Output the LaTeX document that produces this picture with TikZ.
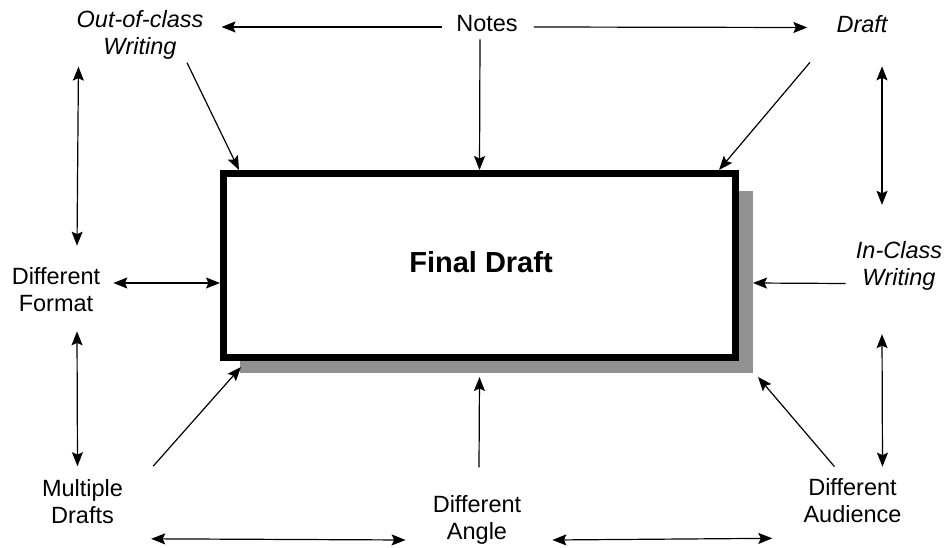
\documentclass[tikz,border=0pt]{standalone}
\usepackage{fontspec}
\setmainfont{Liberation Sans}
\usetikzlibrary{arrows.meta}
\definecolor{shadowgray}{RGB}{145,145,145}
\begin{document}
\begin{tikzpicture}[x=1pt,y=-1pt,
  lbl/.style={inner sep=0pt, align=center, font=\fontsize{23.5}{27}\selectfont},
  ilbl/.style={inner sep=0pt, align=center, font=\fontsize{23.5}{27}\selectfont\itshape},
  tip/.tip={Stealth[length=14pt,width=11pt,inset=2.5pt]},
  arr/.style={line width=1.2pt, -tip},
  dbl/.style={line width=1.2pt, tip-tip}]

% canvas
\fill[white] (0,0) rectangle (945,548);
\useasboundingbox (0,0) rectangle (945,548);

% central box with its drop shadow
\node[fill=shadowgray, inner sep=0pt, outer sep=0pt,
      minimum width=513pt, minimum height=182pt] (sh) at (496.5,282) {};
\node[draw, fill=white, line width=7pt, inner sep=0pt,
      minimum width=512pt, minimum height=184pt] (fd) at (479.5,265.5) {};
\node[inner sep=0pt, font=\fontsize{29}{33}\selectfont\bfseries] (fdt) at (481,262) {Final Draft};

% surrounding labels
\node[ilbl] (oc)    at (140,35)    {Out-of-class\\Writing};
\node[lbl]  (notes) at (487,24)    {Notes};
\node[ilbl] (draft) at (862,24.5)  {Draft};
\node[lbl]  (fmt)   at (56,290)    {Different\\Format};
\node[ilbl] (inc)   at (899,265.5) {In-Class\\Writing};
\node[lbl]  (mul)   at (82.5,501.5){Multiple\\Drafts};
\node[lbl]  (ang)   at (477,520)   {Different\\Angle};
\node[lbl]  (aud)   at (852.5,501) {Different\\Audience};

% top row
\draw[arr] ([xshift=-14pt,yshift=-3pt]notes.west) -- ([xshift=18pt,yshift=8pt]oc.east);
\draw[arr] ([xshift=16pt,yshift=-3pt]notes.east) -- ([xshift=-29pt,yshift=-3pt]draft.west);
\draw[arr] ([xshift=-7pt,yshift=-7pt]notes.south) -- (fd.north);
\draw[arr] ([xshift=47pt,yshift=-3pt]oc.south) -- ([xshift=19pt]fd.north west);
\draw[arr] ([xshift=-52pt,yshift=-29pt]draft.south) -- ([xshift=-20pt]fd.north east);

% left column
\draw[dbl] ([xshift=2pt,yshift=-7pt]oc.south west) -- ([xshift=21pt,yshift=22pt]fmt.north);
\draw[dbl] ([xshift=13pt,yshift=7pt]fmt.east) -- ([yshift=-17.5pt]fd.west);
\draw[dbl] ([xshift=21pt,yshift=-19pt]fmt.south) -- ([xshift=-5pt,yshift=13pt]mul.north);
\draw[arr] ([xshift=30pt,yshift=13pt]mul.north east) -- ([xshift=1pt,yshift=6pt]sh.south west);

% right column
\draw[dbl] ([xshift=20pt,yshift=-33pt]draft.south) -- ([xshift=-17pt,yshift=36pt]inc.north);
\draw[arr] ([xshift=-10pt,yshift=-18pt]inc.west) -- ([yshift=-1pt]sh.east);
\draw[dbl] ([xshift=-17pt,yshift=-44pt]inc.south) -- ([xshift=30pt,yshift=12pt]aud.north);
\draw[arr] ([xshift=-18pt,yshift=12pt]aud.north) -- ([xshift=5pt,yshift=-4pt]sh.south east);

% bottom row
\draw[arr] ([xshift=2pt,yshift=28pt]ang.north) -- ([yshift=-16pt]fd.south);
\draw[dbl] ([xshift=28pt,yshift=-15pt]mul.south east) -- ([xshift=-27pt,yshift=-20pt]ang.west);
\draw[dbl] ([xshift=31pt,yshift=-20pt]ang.east) -- ([xshift=-31pt,yshift=-15pt]aud.south west);
\end{tikzpicture}
\end{document}
